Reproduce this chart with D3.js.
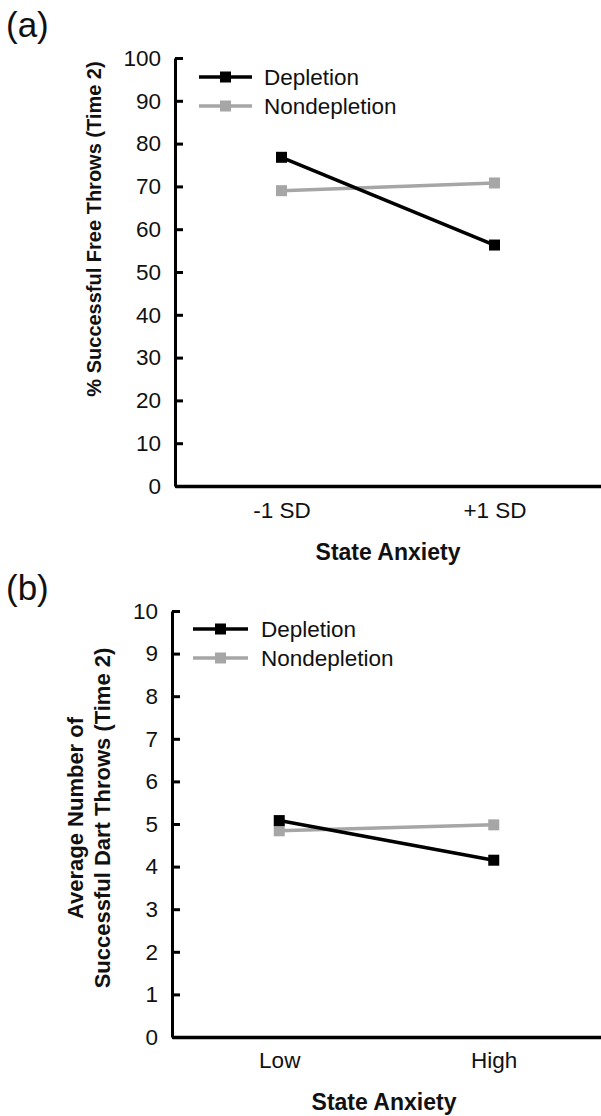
<!DOCTYPE html>
<html>
<head>
<meta charset="utf-8">
<script src="https://cdn.jsdelivr.net/npm/d3@7"></script>
<style>
  html, body { margin: 0; padding: 0; background: #fff; }
  svg { display: block; font-family: "Liberation Sans", Arial, sans-serif; }
</style>
</head>
<body>
<svg id="chart" width="601" height="1116"></svg>
<script>
// ---- Data ----
const seriesNames = ["Depletion", "Nondepletion"];
const seriesColors = ["#000000", "#a6a6a6"];

const categoriesA = ["-1 SD", "+1 SD"];
const depletionA = [76.8, 56.3];
const nondepletionA = [69.0, 70.8];
const yTicksA = [0, 10, 20, 30, 40, 50, 60, 70, 80, 90, 100];

const categoriesB = ["Low", "High"];
const depletionB = [5.08, 4.15];
const nondepletionB = [4.84, 4.98];
const yTicksB = [0, 1, 2, 3, 4, 5, 6, 7, 8, 9, 10];

const svg = d3.select("#chart");
const FONT = "Liberation Sans, Arial, sans-serif";

function panel(opts) {
  const g = svg.append("g");
  const x = d3.scalePoint().domain(opts.categories).range([opts.left, opts.right]).padding(0.5);
  const y = d3.scaleLinear().domain(opts.domain).range([opts.bottom, opts.top]);

  // panel letter
  g.append("text").attr("x", opts.letterX).attr("y", opts.letterY)
    .attr("font-size", 35).attr("fill", "#111").text(opts.letter);

  // y axis
  const ya = g.append("g").attr("transform", `translate(${opts.left},0)`)
    .call(d3.axisLeft(y).tickValues(opts.yTicks).tickSizeInner(-8).tickSizeOuter(0).tickPadding(14));
  ya.selectAll("path,line").attr("stroke", "#000").attr("stroke-width", 3);
  ya.selectAll("text").attr("font-size", 22.5).attr("fill", "#111").attr("font-family", FONT);

  // x axis
  const xa = g.append("g").attr("transform", `translate(0,${opts.bottom})`)
    .call(d3.axisBottom(x).tickSize(0).tickSizeOuter(0).tickPadding(opts.xPad));
  xa.select("path").attr("stroke", "#000").attr("stroke-width", 3.5);
  xa.selectAll("text").attr("font-size", 22.5).attr("fill", "#111").attr("font-family", FONT);

  // x title
  g.append("text").attr("x", opts.xTitleX).attr("y", opts.xTitleY)
    .attr("text-anchor", "middle").attr("font-size", 23).attr("font-weight", "bold")
    .attr("fill", "#111").text("State Anxiety");

  // y title (possibly multi-line)
  opts.yTitle.forEach((t, i) => {
    g.append("text")
      .attr("transform", `translate(${opts.yTitleX[i]},${opts.yTitleY}) rotate(-90)`)
      .attr("text-anchor", "middle").attr("font-size", opts.yTitleSize).attr("font-weight", "bold")
      .attr("fill", "#111").text(t);
  });

  // series
  const seriesData = [opts.dep, opts.non];
  const line = d3.line().x((d, i) => x(opts.categories[i])).y(d => y(d));
  [1, 0].forEach(si => {
    g.append("path").datum(seriesData[si]).attr("d", line)
      .attr("fill", "none").attr("stroke", seriesColors[si]).attr("stroke-width", 3.5);
    g.selectAll(null).data(seriesData[si]).enter().append("rect")
      .attr("x", (d, i) => x(opts.categories[i]) - 5.5)
      .attr("y", d => y(d) - 5.5)
      .attr("width", 11).attr("height", 11)
      .attr("fill", seriesColors[si]);
  });

  // legend
  seriesNames.forEach((name, i) => {
    const ly = opts.legendY[i];
    g.append("line").attr("x1", opts.legendX1).attr("x2", opts.legendX2)
      .attr("y1", ly).attr("y2", ly).attr("stroke", seriesColors[i]).attr("stroke-width", 3.5);
    g.append("rect").attr("x", (opts.legendX1 + opts.legendX2) / 2 - 5.5).attr("y", ly - 5.5)
      .attr("width", 11).attr("height", 11).attr("fill", seriesColors[i]);
    g.append("text").attr("x", opts.legendTextX).attr("y", ly).attr("dy", "0.36em")
      .attr("font-size", 22.5).attr("fill", "#111").text(name);
  });
}

panel({
  letter: "(a)", letterX: 6, letterY: 37,
  categories: categoriesA, dep: depletionA, non: nondepletionA,
  domain: [0, 100], yTicks: yTicksA,
  left: 175, right: 601, top: 58, bottom: 486, xPad: 16,
  xTitleX: 388, xTitleY: 560,
  yTitle: ["% Successful Free Throws (Time 2)"], yTitleX: [101], yTitleY: 229, yTitleSize: 20,
  legendY: [77, 106], legendX1: 199, legendX2: 252, legendTextX: 264
});

panel({
  letter: "(b)", letterX: 6, letterY: 600,
  categories: categoriesB, dep: depletionB, non: nondepletionB,
  domain: [0, 10], yTicks: yTicksB,
  left: 172, right: 601, top: 611, bottom: 1037, xPad: 15,
  xTitleX: 384, xTitleY: 1110,
  yTitle: ["Average Number of", "Successful Dart Throws (Time 2)"], yTitleX: [83, 110], yTitleY: 818, yTitleSize: 22,
  legendY: [629, 658], legendX1: 193, legendX2: 248, legendTextX: 261
});
</script>
</body>
</html>
